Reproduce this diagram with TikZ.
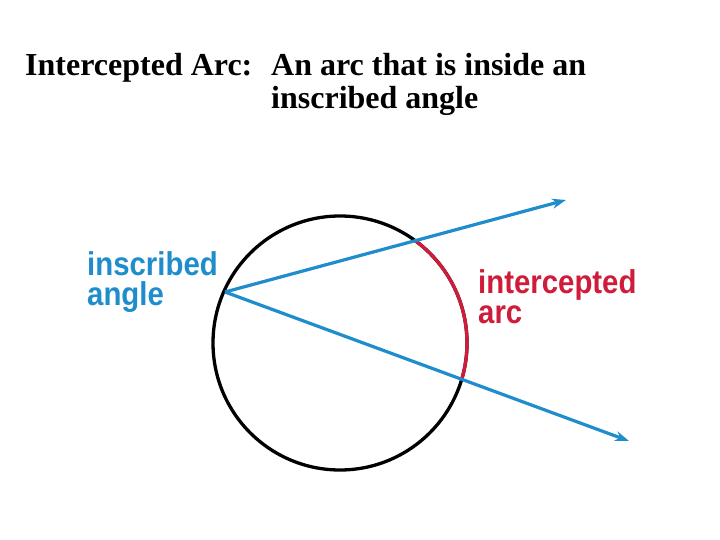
\documentclass[tikz,border=0pt]{standalone}
\usepackage{fontspec}
\usepackage{graphicx}
\setmainfont{Liberation Serif}
\newfontfamily\labelsans{Liberation Sans}
\usetikzlibrary{arrows.meta,calc}
\definecolor{rayblue}{RGB}{31,141,204}
\definecolor{arcred}{RGB}{206,28,58}
\tikzset{
  titletext/.style={anchor=base west,inner sep=0pt,font=\fontsize{32}{33}\selectfont\bfseries},
  bluelabel/.style={anchor=base west,inner sep=0pt,text=rayblue,font=\fontsize{33}{30}\selectfont\labelsans\bfseries},
  redlabel/.style={anchor=base west,inner sep=0pt,text=arcred,font=\fontsize{33}{30}\selectfont\labelsans\bfseries},
  ray/.style={draw=rayblue,line width=3.2pt,-{Stealth[length=14pt,width=10pt]}},
  circ/.style={draw=black,line width=3.3pt},
  redarc/.style={draw=arcred,line width=3.3pt}
}
\begin{document}
\begin{tikzpicture}[x=1pt,y=1pt]
\fill[white] (0,0) rectangle (720,539);
\useasboundingbox (0,0) rectangle (720,539);
% title
\node[titletext] (t1) at (25,463) {Intercepted Arc:};
\node[titletext] (t2) at (271,463) {An arc that is inside an};
\node[titletext] (t3) at (271,430) {inscribed angle};
% geometry
\coordinate (C) at (340,196);
\coordinate (V) at (225,247);
\coordinate (A1) at (566,339);
\coordinate (A2) at (629,98);
\draw[circ] (C) circle (127);
\begin{scope}
  \clip (V) -- ($(V)!3!(A1)$) -- ($(V)!3!(A2)$) -- cycle;
  \draw[redarc] (C) circle (127);
\end{scope}
\draw[ray] (V) -- (A1);
\draw[ray] (V) -- (A2);
% labels
\node[bluelabel] (l1) at (87,264) {\scalebox{0.89}[1]{inscribed}};
\node[bluelabel] (l2) at (87,234) {\scalebox{0.89}[1]{angle}};
\node[redlabel] (l3) at (478,246) {\scalebox{0.89}[1]{intercepted}};
\node[redlabel] (l4) at (478,216) {\scalebox{0.89}[1]{arc}};
\end{tikzpicture}
\end{document}
